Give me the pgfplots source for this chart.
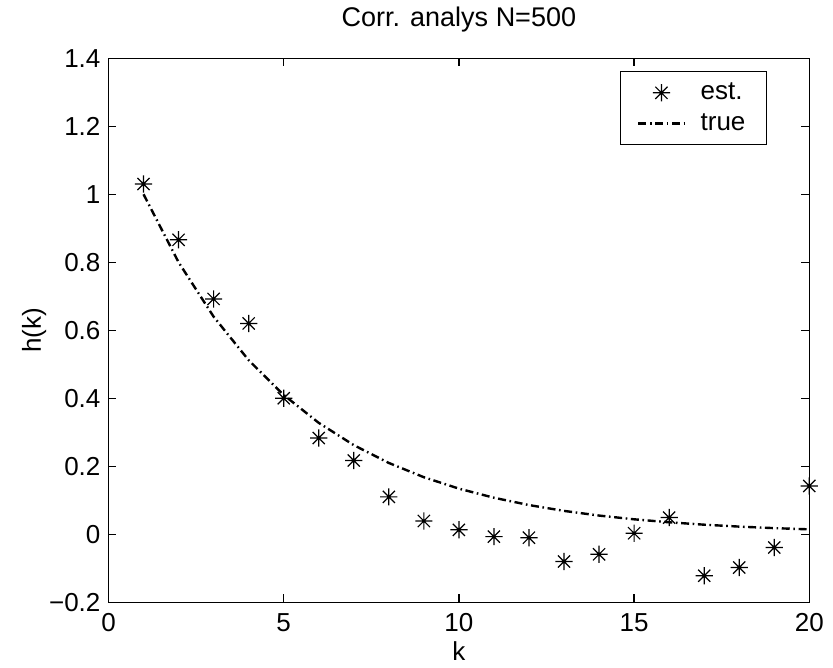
\documentclass[border=0pt]{standalone}
\usepackage{pgfplots}
\pgfplotsset{compat=1.18}
\usepackage{fontspec}
\setmainfont{Liberation Sans}
\pgfdeclareplotmark{mstar}{%
  \pgfpathmoveto{\pgfqpoint{-\pgfplotmarksize}{0pt}}\pgfpathlineto{\pgfqpoint{\pgfplotmarksize}{0pt}}%
  \pgfpathmoveto{\pgfqpoint{0pt}{-\pgfplotmarksize}}\pgfpathlineto{\pgfqpoint{0pt}{\pgfplotmarksize}}%
  \pgfpathmoveto{\pgfqpoint{-.707\pgfplotmarksize}{-.707\pgfplotmarksize}}\pgfpathlineto{\pgfqpoint{.707\pgfplotmarksize}{.707\pgfplotmarksize}}%
  \pgfpathmoveto{\pgfqpoint{-.707\pgfplotmarksize}{.707\pgfplotmarksize}}\pgfpathlineto{\pgfqpoint{.707\pgfplotmarksize}{-.707\pgfplotmarksize}}%
  \pgfusepathqstroke}
\begin{document}
\begin{tikzpicture}
\begin{axis}[
  scale only axis, width=350.4pt, height=272pt,
  xmin=0, xmax=20, ymin=-0.2, ymax=1.4,
  xtick={0,5,10,15,20},
  ytick={-0.2,0,0.2,0.4,0.6,0.8,1,1.2,1.4},
  yticklabels={−0.2,0,0.2,0.4,0.6,0.8,1,1.2,1.4},
  /pgf/number format/assume math mode=true,
  tick align=inside, major tick length=4pt,
  axis line style={line width=0.7pt}, every tick/.style={black, line width=0.7pt},
  font=\fontsize{13}{15.6}\selectfont,
  ticklabel style={font=\fontsize{13}{15.6}\selectfont},
  xticklabel style={yshift=-2pt},
  yticklabel style={xshift=-0.5pt},
  clip=false,
  title={Corr. analys N=500},
  title style={at={(axis description cs:0.5,1.0368)}, anchor=base, font=\fontsize{13.5}{16}\selectfont},
  xlabel={k},
  xlabel style={at={(axis description cs:0.5,-0.107)}, anchor=base},
  ylabel={h(k)},
  ylabel style={at={(axis description cs:-0.106,0.5)}, anchor=center},
  legend style={at={(axis description cs:0.9397,0.976)}, anchor=north east,
    draw=black, line width=0.6pt, inner xsep=8.5pt, inner ysep=3.5pt, row sep=1.5pt,
    font=\fontsize{13}{15.6}\selectfont,
    /tikz/every odd column/.append style={column sep=5.5pt}},
  legend cell align=left,
  legend image code/.code={\draw[mark repeat=2,mark phase=2,#1] plot coordinates {(0pt,0pt) (11.5pt,0pt) (23pt,0pt)};},
]
\addplot[only marks, mark=mstar, mark size=4.3pt, mark options={line width=0.6pt, black}] coordinates {
(1,1.030) (2,0.866) (3,0.692) (4,0.620) (5,0.400) (6,0.283) (7,0.217) (8,0.110)
(9,0.039) (10,0.013) (11,-0.007) (12,-0.010) (13,-0.080) (14,-0.059) (15,0.003)
(16,0.049) (17,-0.122) (18,-0.098) (19,-0.039) (20,0.142)};
\addlegendentry{est.}
\addplot[black, line width=1.2pt, dash pattern=on 4pt off 1.8pt on 0.8pt off 1.8pt] coordinates {
(1,1) (2,0.8) (3,0.64) (4,0.512) (5,0.4096) (6,0.32768) (7,0.262144) (8,0.209715)
(9,0.167772) (10,0.134218) (11,0.107374) (12,0.085899) (13,0.068719) (14,0.054976)
(15,0.043980) (16,0.035184) (17,0.028147) (18,0.022518) (19,0.018014) (20,0.014412)};
\addlegendentry{true}
\path (axis description cs:-0.1548,-0.1176) rectangle (axis description cs:1.0338,1.0919);
\end{axis}
\end{tikzpicture}
\end{document}
